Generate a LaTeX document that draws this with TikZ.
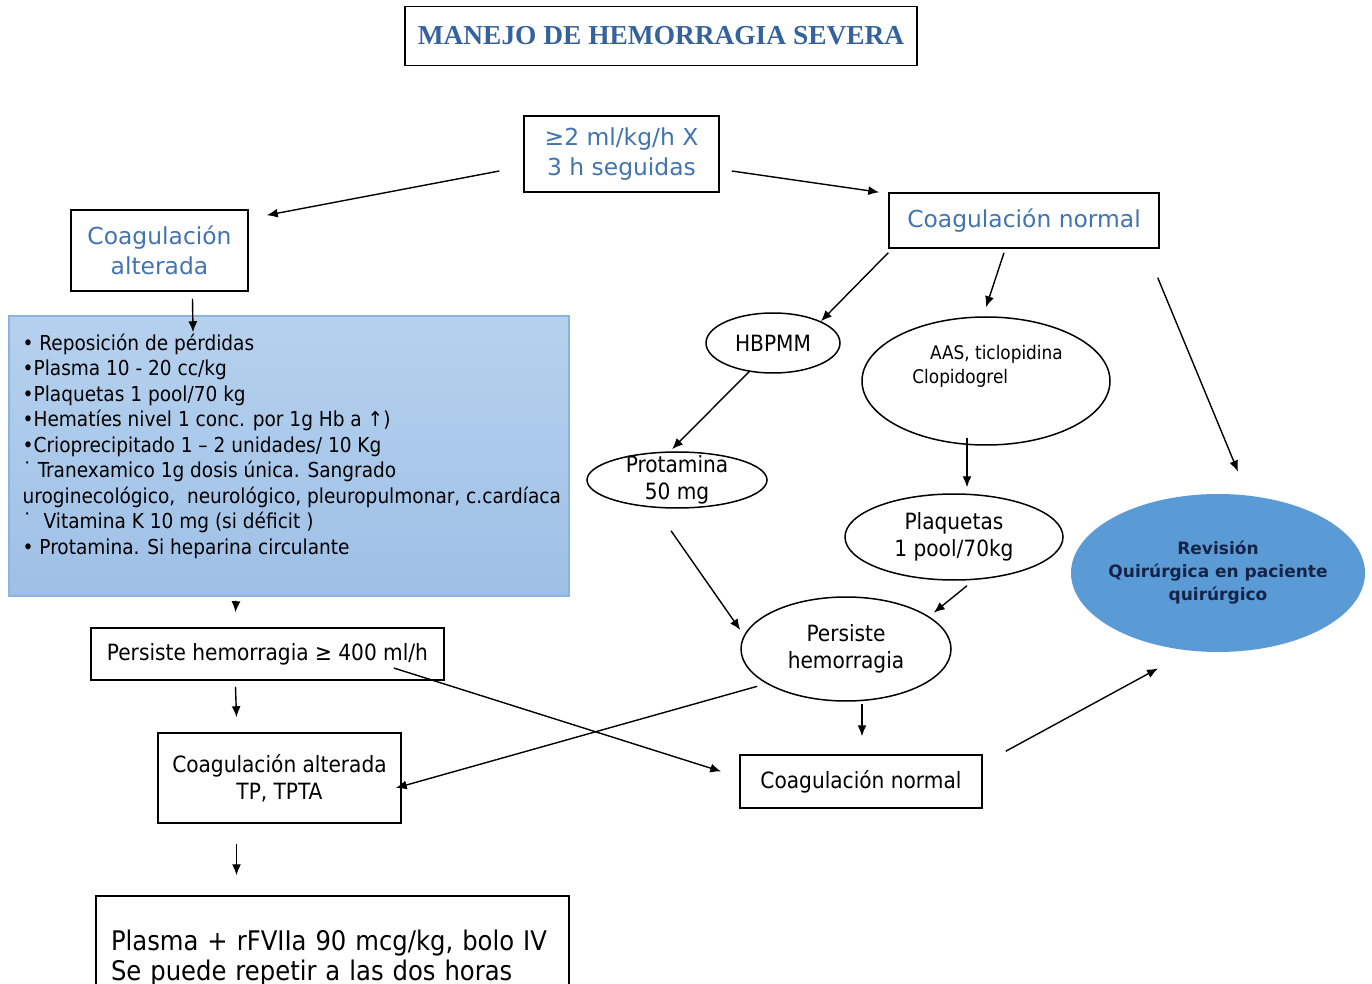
\documentclass[tikz,border=0pt]{standalone}
\usepackage{fontspec}
\setmainfont{DejaVu Sans Condensed}
\newfontfamily\titulofont{Liberation Serif}
\newfontfamily\azulfont{DejaVu Sans}
\usetikzlibrary{shapes.geometric,arrows.meta,calc}

\definecolor{azultitulo}{RGB}{52,98,158}
\definecolor{azultexto}{RGB}{66,116,178}
\definecolor{listaarriba}{RGB}{182,209,238}
\definecolor{listaabajo}{RGB}{158,192,230}
\definecolor{listaborde}{RGB}{140,180,225}
\definecolor{revisionfondo}{RGB}{91,155,213}
\definecolor{revisiontexto}{RGB}{20,35,70}

\begin{document}
\begin{tikzpicture}[x=0.5pt,y=-0.5pt,
    caja/.style={draw, line width=0.75pt, inner sep=0pt, align=center,
      font=\fontsize{11.2}{13.5}\selectfont},
    cajaazul/.style={caja, text=azultexto,
      font=\azulfont\fontsize{11.7}{15}\selectfont},
    elipse/.style={ellipse, draw, line width=0.75pt, inner sep=0pt,
      align=center, font=\fontsize{11.2}{13.5}\selectfont},
    flecha/.style={-{Latex[length=5.5pt,width=4.5pt]}, line width=0.7pt}]
  \clip (0,0) rectangle (1372,984);           % the page, as in the slide
  \fill[white] (0,0) rectangle (1372,984);

  % title
  \node[caja, minimum width=256pt, minimum height=29.5pt, text=azultitulo,
    font=\titulofont\bfseries\fontsize{13.7}{16}\selectfont]
    (titulo) at (661,36) {MANEJO DE HEMORRAGIA SEVERA};

  % first split
  \node[cajaazul, minimum width=97.5pt, minimum height=38pt]
    (inicio) at (621.5,154) {≥2 ml/kg/h X\\ 3 h seguidas};
  \node[cajaazul, minimum width=88.5pt, minimum height=40.5pt]
    (alterada) at (159.5,250.5) {Coagulación\\ alterada};
  \node[cajaazul, minimum width=135pt, minimum height=27.5pt]
    (normal) at (1024,220.5) {Coagulación normal};

  % left column
  \node[draw=listaborde, line width=0.75pt, top color=listaarriba,
    bottom color=listaabajo, minimum width=280pt, minimum height=140pt,
    inner sep=0pt] (lista) at (289,456) {};
  \node[anchor=north west, align=left, inner sep=0pt,
    font=\fontsize{10.3}{12.75}\selectfont]
    (listatexto) at ($(lista.north west)+(14,18)$) {%
      • Reposición de pérdidas\\
      •Plasma 10 - 20 cc/kg\\
      •Plaquetas 1 pool/70 kg\\
      •Hematíes nivel 1 conc. por 1g Hb a ↑)\\
      •Crioprecipitado 1 – 2 unidades/ 10 Kg\\
      ˙ Tranexamico 1g dosis única. Sangrado\\
      uroginecológico,\ \ neurológico, pleuropulmonar, c.cardíaca\\
      ˙\ \ Vitamina K 10 mg (si déficit )\\
      • Protamina. Si heparina circulante};
  \node[caja, minimum width=176.5pt, minimum height=26pt]
    (persiste400) at (267.5,654) {Persiste hemorragia ≥ 400 ml/h};
  \node[caja, minimum width=121.5pt, minimum height=45pt]
    (alteradatp) at (279.5,778) {Coagulación alterada\\ TP, TPTA};
  \node[caja, minimum width=236.5pt, minimum height=62pt, align=left,
    inner xsep=7.5pt, text width=221.5pt,
    font=\fontsize{13.5}{15}\selectfont]
    (plasma) at (332.5,958) {Plasma + rFVIIa 90 mcg/kg, bolo IV\\
      Se puede repetir a las dos horas};

  % right side
  \node[elipse, minimum width=67pt, minimum height=30pt]
    (hbpmm) at (773,343) {HBPMM};
  \node[elipse, minimum width=124pt, minimum height=64pt]
    (aas) at (986,381) {};
  \node[anchor=north west, align=left, inner sep=0pt,
    font=\fontsize{9.4}{12}\selectfont]
    (aastexto) at ($(aas.center)+(-74,-36)$)
    {\hspace*{22\pgflinewidth}AAS, ticlopidina\\ Clopidogrel};
  \node[elipse, minimum width=90pt, minimum height=28pt, inner ysep=-4pt]
    (protamina) at (677,480) {Protamina\\ 50 mg};
  \node[elipse, minimum width=109pt, minimum height=43pt]
    (plaquetas) at (954,537) {Plaquetas\\ 1 pool/70kg};
  \node[elipse, minimum width=105pt, minimum height=52pt]
    (persiste) at (846,649) {Persiste\\ hemorragia};
  \node[caja, minimum width=121pt, minimum height=26.5pt]
    (normalb) at (861,781.5) {Coagulación normal};
  \node[ellipse, fill=revisionfondo, inner xsep=-4pt, inner ysep=0pt,
    minimum width=147pt, minimum height=79pt, align=center,
    text=revisiontexto,
    font=\azulfont\bfseries\fontsize{8.5}{11.5}\selectfont]
    (revision) at (1218,573) {Revisión\\ Quirúrgica en paciente\\ quirúrgico};

  % arrows
  \draw[flecha] ($(inicio.west)+(-24,17)$) -- ($(alterada.north east)+(18,6)$);
  \draw[flecha] ($(inicio.east)+(12,17)$) -- ($(normal.north west)+(-9,0)$);
  \draw[flecha] ($(normal.south west)+(0,4)$) -- (hbpmm.north east);
  \draw[flecha] ($(normal.south)+(-20,4)$) -- ($(aas.north)+(0,-9)$);
  \draw[flecha] ($(normal.south east)+(-2,29)$) -- ($(revision.north)+(20,-22)$);
  \draw[flecha] ($(hbpmm.south)+(-23,-3)$) -- ($(protamina.north)+(-5,-2)$);
  \draw[flecha] ($(aas.south)+(-19,-8)$) -- ($(plaquetas.north)+(13,-6)$);
  \draw[flecha] ($(protamina.south)+(-6,22)$) -- ($(persiste.west)+(0,-19)$);
  \draw[flecha] ($(plaquetas.south)+(13,5)$) -- ($(persiste.north east)+(13,1)$);
  \draw[flecha] ($(persiste.south)+(16,2)$) -- ($(normalb.north)+(1,-18)$);
  \draw[flecha] ($(persiste.south west)+(-14,0)$) -- ($(alteradatp.east)+(-6,10)$);
  \draw[flecha] ($(persiste400.east)+(-51,14)$) -- ($(normalb.west)+(-18,-10)$);
  \draw[flecha] ($(normalb.north east)+(23,-3)$) -- ($(revision.south)+(-60,16)$);
  \draw[flecha] ($(alterada.south)+(33,7)$) -- ($(lista.north)+(-96,17)$);
  \draw[flecha] ($(lista.south)+(-53,4)$) -- ($(persiste400.north)+(-32,-15)$);
  \draw[flecha] ($(persiste400.south)+(-32,6)$) -- ($(alteradatp.north)+(-43,-15)$);
  \draw[flecha] ($(alteradatp.south)+(-43,20)$) -- ($(plasma.north)+(-96,-20)$);
\end{tikzpicture}
\end{document}
